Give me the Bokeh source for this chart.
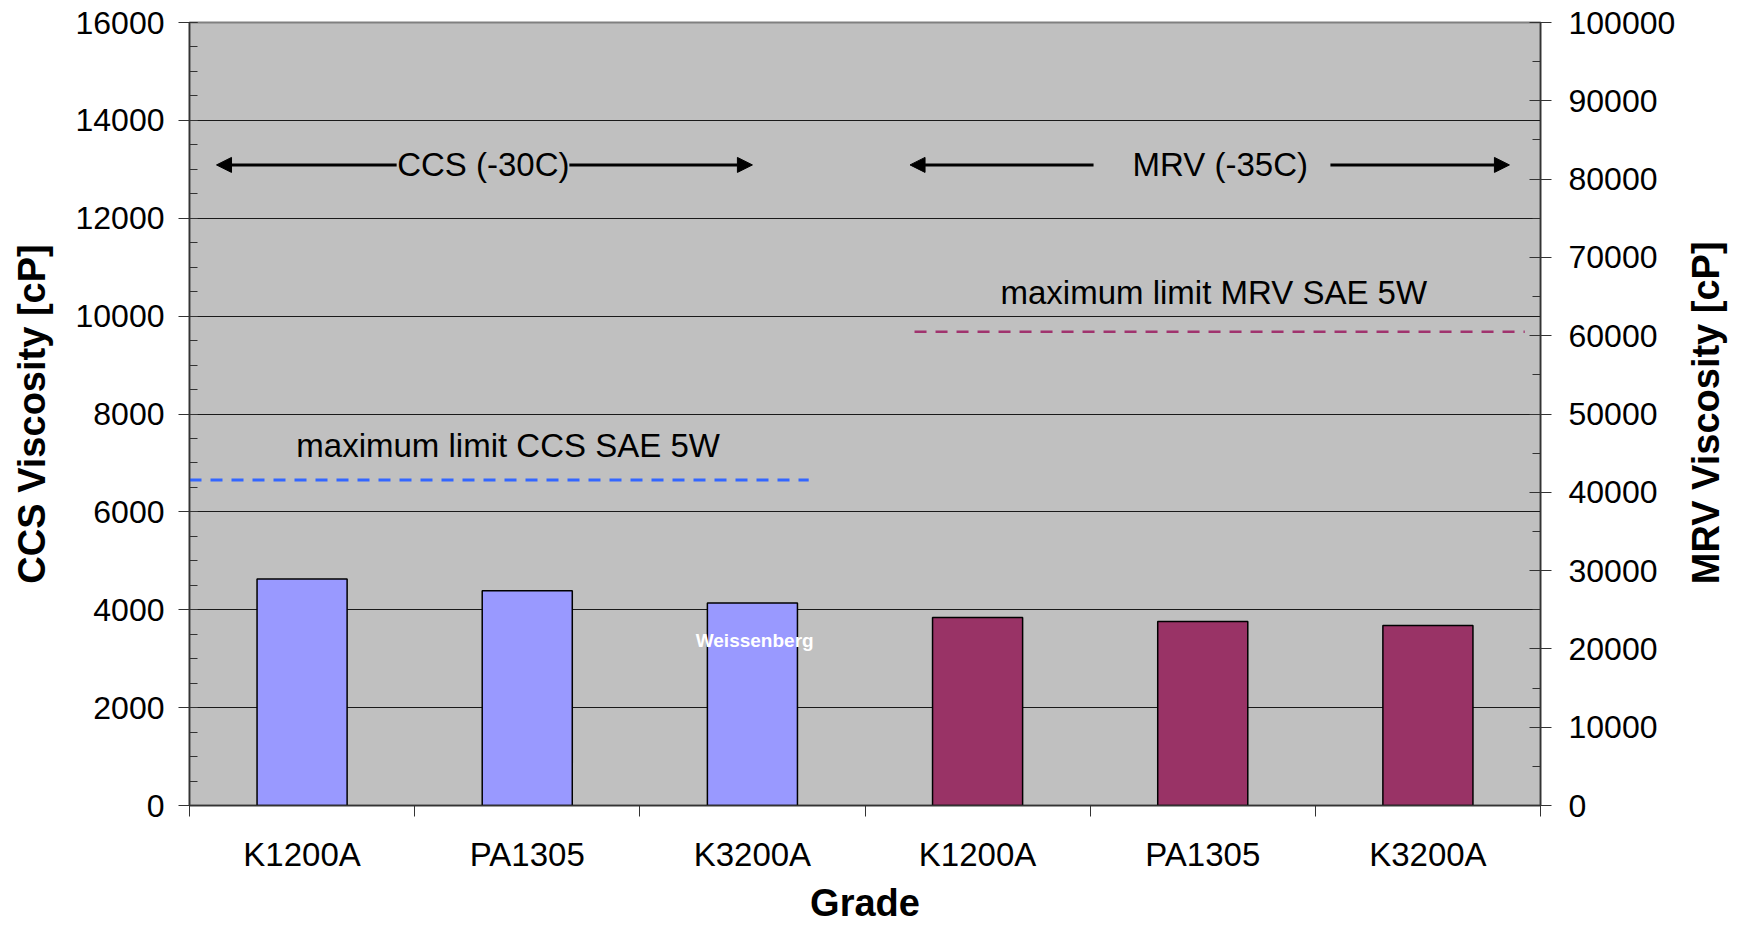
import math
from bokeh.plotting import figure
from bokeh.layouts import row
from bokeh.models import (Range1d, LinearAxis, FixedTicker, SingleIntervalTicker,
                          Arrow, NormalHead, BasicTickFormatter)
from bokeh.core.properties import value
from bokeh.embed import file_html
from bokeh.resources import INLINE

# ---- data ----
grades = ["K1200A", "PA1305", "K3200A", "K1200A", "PA1305", "K3200A"]
ccs_values = [4630, 4390, 4140]        # CCS viscosity (-30C), left axis [cP]
mrv_values = [24000, 23500, 23000]     # MRV viscosity (-35C), right axis [cP]
ccs_limit = 6650                       # maximum limit CCS SAE 5W
mrv_limit = 60500                      # maximum limit MRV SAE 5W

FONT = "Liberation Sans"

ccs_x = [i + 0.5 for i in range(len(ccs_values))]
mrv_x = [len(ccs_values) + i + 0.5 for i in range(len(mrv_values))]
n = len(grades)

p = figure(width=1680, height=926, output_backend="svg", toolbar_location=None,
           x_range=Range1d(0, n), y_range=Range1d(0, 16000),
           min_border_left=189, min_border_right=140, min_border_top=22,
           min_border_bottom=120)
p.extra_y_ranges = {"mrv": Range1d(0, 100000)}

p.background_fill_color = "#C0C0C0"
p.border_fill_color = "white"
p.outline_line_color = "#808080"
p.outline_line_width = 2

# ---- axes ----
xa = p.xaxis[0]
xa.ticker = FixedTicker(ticks=[i + 0.5 for i in range(n)],
                        minor_ticks=list(range(n + 1)))
xa.major_label_overrides = {i + 0.5: g for i, g in enumerate(grades)}
xa.major_tick_out = 0
xa.major_tick_in = 0
xa.minor_tick_out = 11
xa.minor_tick_in = 0
xa.minor_tick_line_color = "#333333"
xa.axis_line_color = "#333333"
xa.axis_line_width = 1.5
xa.major_label_text_font = FONT
xa.major_label_text_font_size = "33px"
xa.major_label_text_color = "black"
xa.major_label_standoff = 19
xa.axis_label = "Grade"
xa.axis_label_text_font = FONT
xa.axis_label_text_font_size = "38px"
xa.axis_label_text_font_style = "bold"
xa.axis_label_text_color = "black"
xa.axis_label_standoff = 6

ya = p.yaxis[0]
ya.ticker = SingleIntervalTicker(interval=2000, num_minor_ticks=4)
ya.major_tick_out = 11
ya.major_tick_in = 8
ya.minor_tick_out = 0
ya.minor_tick_in = 8
ya.major_tick_line_color = "#333333"
ya.minor_tick_line_color = "#333333"
ya.axis_line_color = "#333333"
ya.axis_line_width = 1.5
ya.major_label_text_font = FONT
ya.major_label_text_font_size = "32px"
ya.major_label_text_color = "black"
ya.major_label_standoff = 14
ya.axis_label = "CCS Viscosity [cP]"
ya.axis_label_text_font = FONT
ya.axis_label_text_font_size = "38px"
ya.axis_label_text_font_style = "bold"
ya.axis_label_text_color = "black"
ya.axis_label_standoff = 20

ra = LinearAxis(y_range_name="mrv",
                ticker=SingleIntervalTicker(interval=10000, num_minor_ticks=2),
                formatter=BasicTickFormatter(use_scientific=False))
ra.major_tick_out = 11
ra.major_tick_in = 11
ra.minor_tick_out = 0
ra.minor_tick_in = 8
ra.major_tick_line_color = "#333333"
ra.minor_tick_line_color = "#333333"
ra.axis_line_color = "#333333"
ra.axis_line_width = 1.5
ra.major_label_text_font = FONT
ra.major_label_text_font_size = "32px"
ra.major_label_text_color = "black"
ra.major_label_standoff = 17
p.add_layout(ra, "right")

p.xgrid.visible = False
p.ygrid.grid_line_color = "#1a1a1a"
p.ygrid.grid_line_width = 1

# ---- bars ----
p.vbar(x=ccs_x, top=ccs_values, bottom=0, width=0.4,
       fill_color="#9999FF", line_color="black", line_width=1.5)
p.vbar(x=mrv_x, top=mrv_values, bottom=0, width=0.4, y_range_name="mrv",
       fill_color="#993366", line_color="black", line_width=1.5)

# ---- limit lines ----
ccs_limit_span = [0.0, 2.75]
mrv_limit_span = [3.22, 5.93]
p.line(x=ccs_limit_span, y=[ccs_limit, ccs_limit], line_color="#3366FF",
       line_width=3, line_dash="12 9")
p.line(x=mrv_limit_span, y=[mrv_limit, mrv_limit], y_range_name="mrv",
       line_color="#A0336E", line_width=2.5, line_dash="12 9")

# ---- annotations ----
limit_texts = ["maximum limit CCS SAE 5W", "maximum limit MRV SAE 5W"]
limit_text_x = [1.415, 4.549]
limit_text_y = [7347, 10480]
p.text(x=limit_text_x, y=limit_text_y, text=limit_texts,
       text_font=value(FONT), text_font_size="33px", text_color="black",
       text_align="center", text_baseline="middle")

section_labels = ["CCS (-30C)", "MRV (-35C)"]
section_x = [1.305, 4.578]
section_y = [13090, 13090]
p.text(x=section_x, y=section_y, text=section_labels,
       text_font=value(FONT), text_font_size="33px", text_color="black",
       text_align="center", text_baseline="middle")

arrow_starts = [0.92, 1.687, 4.015, 5.067]
arrow_ends = [0.12, 2.5, 3.2, 5.862]
for xs, xe in zip(arrow_starts, arrow_ends):
    p.add_layout(Arrow(end=NormalHead(size=15, fill_color="black", line_color="black"),
                       x_start=xs, y_start=13090, x_end=xe, y_end=13090,
                       line_color="black", line_width=3))

p.text(x=[2.51], y=[3375], text=["Weissenberg"],
       text_font=value(FONT), text_font_size="19px", text_font_style="bold",
       text_color="white", text_align="center", text_baseline="middle")

# ---- right-axis title panel (reads bottom-to-top, like the left one) ----
t = figure(width=64, height=926, output_backend="svg", toolbar_location=None,
           x_range=Range1d(0, 1), y_range=Range1d(0, 1), min_border=0)
t.axis.visible = False
t.grid.visible = False
t.outline_line_color = None
t.background_fill_color = "white"
t.border_fill_color = "white"
t.text(x=[0.40], y=[0.5015], text=["MRV Viscosity [cP]"], angle=math.pi / 2,
       text_font=value(FONT), text_font_size="38px", text_font_style="bold",
       text_color="black", text_align="center", text_baseline="middle")

layout = row(p, t, spacing=0)
open("out.html", "w").write(file_html(layout, INLINE))
